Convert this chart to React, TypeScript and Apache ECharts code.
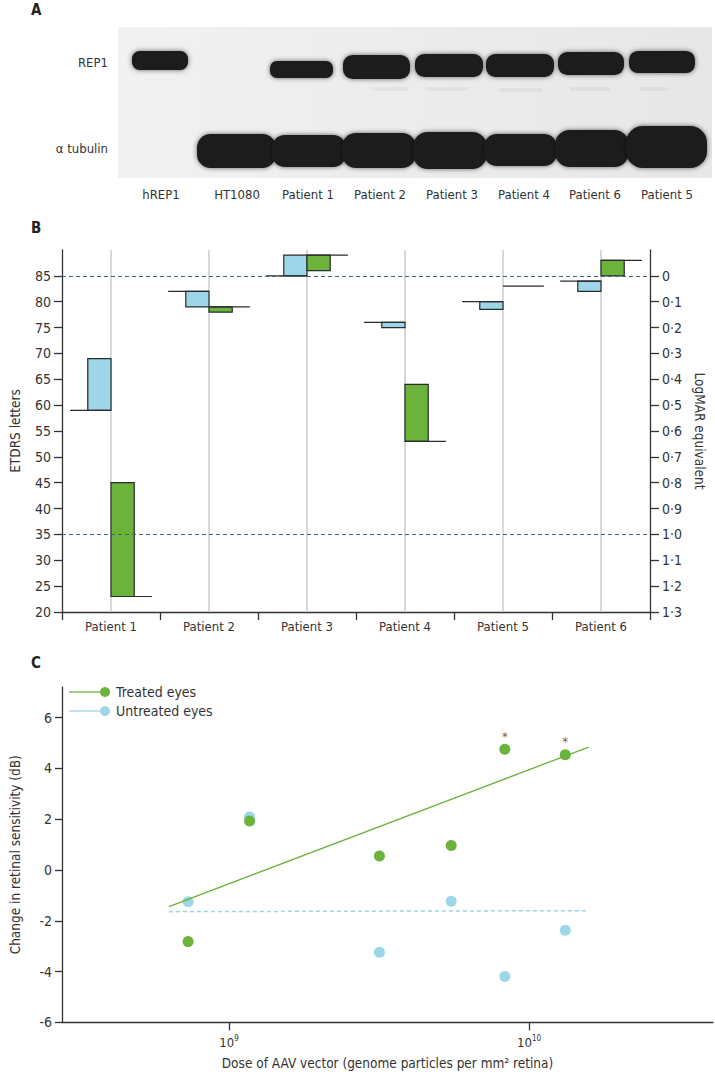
import React, { useEffect, useRef } from "react";
import * as echarts from "echarts";

const FONT = '"Liberation Sans Narrow", "DejaVu Sans Condensed", "Liberation Sans", sans-serif';
const TXT = "#333333";
const BLUE = "#9cd6e8";
const GREEN = "#6cb33c";
const DARK = "#2a2a2a";

// ---------- Panel A (western blot) ----------
const laneLabels = ["hREP1", "HT1080", "Patient 1", "Patient 2", "Patient 3", "Patient 4", "Patient 6", "Patient 5"];
const laneLabelX = [161, 237, 308, 380, 452, 524, 595, 667];
// REP1 bands: [x0, x1, y0, y1]
const rep1Bands = [
  [132, 188, 51, 70],
  [270, 333, 61, 78],
  [343, 410, 55, 79],
  [415, 483, 54, 77],
  [486, 554, 54, 77],
  [558, 624, 52, 75],
  [629, 695, 51, 73],
];
// tubulin bands
const tubulinBands = [
  [197, 276, 134, 168],
  [272, 346, 135, 167],
  [342, 416, 133, 168],
  [413, 487, 132, 169],
  [484, 557, 134, 166],
  [555, 629, 130, 167],
  [626, 707, 126, 168],
];
// faint smudges under REP1
const smudges = [
  [372, 408, 87, 91],
  [427, 468, 87, 91],
  [499, 543, 88, 92],
  [570, 610, 87, 91],
  [640, 668, 87, 91],
];

// ---------- Panel B ----------
const patientsB = ["Patient 1", "Patient 2", "Patient 3", "Patient 4", "Patient 5", "Patient 6"];
const untreatedBaseline = [59, 82, 85, 76, 80, 84];
const untreatedFinal = [69, 79, 89, 75, 78.5, 82];
const treatedBaseline = [23, 79, 89, 53, 83, 88];
const treatedFinal = [45, 78, 86, 64, 83, 85];
const etdrsTicks = [20, 25, 30, 35, 40, 45, 50, 55, 60, 65, 70, 75, 80, 85];
const logmarTicks = [0, 1, 2, 3, 4, 5, 6, 7, 8, 9, 10, 11, 12, 13].map((i) => i / 10);
const referenceLines = [85, 35];

// ---------- Panel C ----------
const doses = [7.3e8, 1.17e9, 3.17e9, 5.5e9, 8.3e9, 1.32e10];
const treatedChange = [-2.82, 1.93, 0.55, 0.96, 4.75, 4.54];
const untreatedChange = [-1.25, 2.09, -3.24, -1.23, -4.19, -2.37];
const significant = [false, false, false, false, true, true];
const fitDoses = [6.3e8, 1.58e10];
const treatedFit = [-1.44, 4.84];
const untreatedFit = [-1.64, -1.6];
const sensTicks = [-6, -4, -2, 0, 2, 4, 6];

export default function App() {
  const ref = useRef<HTMLDivElement>(null);
  useEffect(() => {
    if (!ref.current) return;
    const chart = echarts.init(ref.current, null, { renderer: "svg" });

    const graphics: any[] = [];
    // panel letters
    [["A", 10], ["B", 228], ["C", 663]].forEach(([t, y]) => {
      graphics.push({
        type: "text",
        x: 31,
        y: y as number,
        style: { text: t as string, font: `bold 15px ${FONT}`, fill: "#222", verticalAlign: "middle" },
      });
    });
    // blot background
    graphics.push({
      type: "rect",
      shape: { x: 118, y: 27, width: 594, height: 151 },
      style: {
        fill: new echarts.graphic.LinearGradient(0, 0, 1, 0, [
          { offset: 0, color: "#f1f1f1" },
          { offset: 1, color: "#e7e7e7" },
        ]),
      },
    });
    smudges.forEach(([x0, x1, y0, y1]) => {
      graphics.push({
        type: "rect",
        shape: { x: x0, y: y0, width: x1 - x0, height: y1 - y0, r: 2 },
        style: { fill: "rgba(0,0,0,0.045)", shadowBlur: 4, shadowColor: "rgba(0,0,0,0.06)" },
      });
    });
    const band = (b: number[]) => ({
      type: "rect",
      shape: { x: b[0], y: b[2], width: b[1] - b[0], height: b[3] - b[2], r: (b[3] - b[2]) * 0.4 },
      style: { fill: "#1c1c1c", shadowBlur: 5, shadowColor: "rgba(0,0,0,0.6)" },
    });
    rep1Bands.forEach((b) => graphics.push(band(b)));
    tubulinBands.forEach((b) => graphics.push(band(b)));
    graphics.push({
      type: "text",
      x: 108,
      y: 62,
      style: { text: "REP1", font: `13px ${FONT}`, fill: TXT, align: "right", verticalAlign: "middle" },
    });
    graphics.push({
      type: "text",
      x: 108,
      y: 148,
      style: { text: "α tubulin", font: `13px ${FONT}`, fill: TXT, align: "right", verticalAlign: "middle" },
    });
    laneLabels.forEach((t, i) => {
      graphics.push({
        type: "text",
        x: laneLabelX[i],
        y: 194,
        style: { text: t, font: `13px ${FONT}`, fill: TXT, align: "center", verticalAlign: "middle" },
      });
    });
    // legend panel C
    const legendItems = [
      { name: "Treated eyes", color: GREEN, y: 692 },
      { name: "Untreated eyes", color: BLUE, y: 711 },
    ];
    legendItems.forEach((it) => {
      graphics.push({ type: "line", shape: { x1: 69, y1: it.y, x2: 100, y2: it.y }, style: { stroke: it.color, lineWidth: 1.3 } });
      graphics.push({ type: "circle", shape: { cx: 105, cy: it.y, r: 5 }, style: { fill: it.color } });
      graphics.push({
        type: "text",
        x: 116,
        y: it.y,
        style: { text: it.name, font: `14px ${FONT}`, fill: TXT, verticalAlign: "middle" },
      });
    });

    const axisLineStyle = { color: "#333", width: 1.3 };
    const tickLabelStyle = { fontFamily: FONT, fontSize: 14, color: TXT };

    const barData: number[][] = [];
    patientsB.forEach((_, i) => {
      barData.push([i, untreatedBaseline[i], untreatedFinal[i], 0]);
      barData.push([i, treatedBaseline[i], treatedFinal[i], 1]);
    });

    const option: any = {
      animation: false,
      graphic: graphics,
      grid: [
        { left: 53, top: 250, width: 604, height: 362 },
        { left: 53, top: 687.1, width: 660, height: 335.3 },
      ],
      xAxis: [
        {
          type: "category",
          gridIndex: 0,
          data: patientsB,
          boundaryGap: true,
          axisLine: { onZero: false, lineStyle: axisLineStyle },
          axisTick: { show: true, interval: 0, length: 8, lineStyle: axisLineStyle },
          axisLabel: { ...tickLabelStyle, fontSize: 13, margin: 8, interval: 0 },
          splitLine: { show: false },
        },
        {
          type: "log",
          gridIndex: 1,
          min: Math.pow(10, 8.443),
          max: Math.pow(10, 10.613),
          axisLine: { onZero: false, lineStyle: axisLineStyle },
          axisTick: { show: true, length: 8, lineStyle: axisLineStyle },
          axisLabel: {
            ...tickLabelStyle,
            fontSize: 13,
            margin: 12,
            showMinLabel: false,
            showMaxLabel: false,
            formatter: (v: number) => `10{s|${Math.round(Math.log10(v))}}`,
            rich: { s: { fontFamily: FONT, fontSize: 8, color: TXT, verticalAlign: "top", padding: [0, 0, 8, 0] } },
          },
          splitLine: { show: false },
          minorTick: { show: false },
          name: "Dose of AAV vector (genome particles per mm² retina)",
          nameLocation: "middle",
          nameGap: 34,
          nameTextStyle: { fontFamily: FONT, fontSize: 13.5, color: TXT },
        },
      ],
      yAxis: [
        {
          type: "value",
          gridIndex: 0,
          min: 20,
          max: 90,
          interval: 5,
          axisLine: { show: true, onZero: false, lineStyle: axisLineStyle },
          axisTick: { show: true, length: 8, lineStyle: axisLineStyle, customValues: etdrsTicks },
          axisLabel: { ...tickLabelStyle, margin: 11, customValues: etdrsTicks },
          splitLine: { show: false },
          name: "ETDRS letters",
          nameLocation: "middle",
          nameGap: 40,
          nameTextStyle: { fontFamily: FONT, fontSize: 13.5, color: TXT },
        },
        {
          type: "value",
          gridIndex: 0,
          position: "right",
          min: -0.1,
          max: 1.3,
          interval: 0.1,
          inverse: true,
          axisLine: { show: true, onZero: false, lineStyle: axisLineStyle },
          axisTick: { show: true, length: 9, lineStyle: axisLineStyle, customValues: logmarTicks },
          axisLabel: {
            ...tickLabelStyle,
            margin: 12,
            customValues: logmarTicks,
            formatter: (v: number) => (Math.abs(v) < 1e-9 ? "0" : v.toFixed(1).replace(".", "·")),
          },
          splitLine: { show: false },
          name: "LogMAR equivalent",
          nameLocation: "middle",
          nameRotate: -90,
          nameGap: 43,
          nameTextStyle: { fontFamily: FONT, fontSize: 13.5, color: TXT },
        },
        {
          type: "value",
          gridIndex: 1,
          min: -6,
          max: 7.2,
          interval: 2,
          axisLine: { show: true, onZero: false, lineStyle: axisLineStyle },
          axisTick: { show: true, length: 7, lineStyle: axisLineStyle, customValues: sensTicks },
          axisLabel: { ...tickLabelStyle, margin: 10, customValues: sensTicks },
          splitLine: { show: false },
          name: "Change in retinal sensitivity (dB)",
          nameLocation: "middle",
          nameGap: 40,
          nameTextStyle: { fontFamily: FONT, fontSize: 13.5, color: TXT },
        },
      ],
      series: [
        {
          type: "custom",
          xAxisIndex: 0,
          yAxisIndex: 0,
          z: 1,
          silent: true,
          data: patientsB.map((_, i) => [i]),
          renderItem: (params: any, api: any) => {
            const i = api.value(0);
            const p1 = api.coord([i, 90]);
            const p2 = api.coord([i, 20]);
            return {
              type: "line",
              shape: { x1: p1[0], y1: p1[1], x2: p2[0], y2: p2[1] },
              style: { stroke: "#c3cdd5", lineWidth: 1.5 },
            };
          },
          markLine: {
            silent: true,
            symbol: "none",
            label: { show: false },
            lineStyle: { color: "#3f6579", type: [4, 3], width: 1 },
            data: referenceLines.map((v) => ({ yAxis: v })),
          },
        },
        {
          type: "custom",
          xAxisIndex: 0,
          yAxisIndex: 0,
          z: 3,
          silent: true,
          data: barData,
          renderItem: (params: any, api: any) => {
            const cat = api.value(0);
            const base = api.value(1);
            const fin = api.value(2);
            const side = api.value(3);
            const bw = api.size([1, 0])[0];
            const boxW = bw * 0.237;
            const lineW = bw * 0.18;
            const pb = api.coord([cat, base]);
            const pf = api.coord([cat, fin]);
            const cx = pb[0];
            const children: any[] = [];
            const h = Math.abs(pb[1] - pf[1]);
            if (h > 0.1) {
              children.push({
                type: "rect",
                shape: { x: side === 0 ? cx - boxW : cx, y: Math.min(pb[1], pf[1]), width: boxW, height: h },
                style: { fill: side === 0 ? BLUE : GREEN, stroke: DARK, lineWidth: 1.2 },
              });
            }
            children.push({
              type: "line",
              shape:
                side === 0
                  ? { x1: cx - boxW - lineW, y1: pb[1], x2: cx, y2: pb[1] }
                  : { x1: cx, y1: pb[1], x2: cx + boxW + lineW, y2: pb[1] },
              style: { stroke: DARK, lineWidth: 1.2 },
            });
            return { type: "group", children };
          },
        },
        {
          type: "line",
          name: "Untreated fit",
          xAxisIndex: 1,
          yAxisIndex: 2,
          showSymbol: false,
          silent: true,
          data: fitDoses.map((d, i) => [d, untreatedFit[i]]),
          lineStyle: { color: BLUE, width: 1.5, type: [4, 3] },
        },
        {
          type: "line",
          name: "Treated fit",
          xAxisIndex: 1,
          yAxisIndex: 2,
          showSymbol: false,
          silent: true,
          data: fitDoses.map((d, i) => [d, treatedFit[i]]),
          lineStyle: { color: GREEN, width: 1.3 },
        },
        {
          type: "scatter",
          name: "Untreated eyes",
          xAxisIndex: 1,
          yAxisIndex: 2,
          symbolSize: 11,
          itemStyle: { color: BLUE, opacity: 1 },
          data: doses.map((d, i) => [d, untreatedChange[i]]),
        },
        {
          type: "scatter",
          name: "Treated eyes",
          xAxisIndex: 1,
          yAxisIndex: 2,
          symbolSize: 11,
          itemStyle: { color: GREEN, opacity: 1 },
          data: doses.map((d, i) => ({
            value: [d, treatedChange[i]],
            label: significant[i]
              ? { show: true, formatter: "*", position: "top", distance: 1, color: "#666", fontSize: 13, fontFamily: FONT }
              : { show: false },
          })),
        },
      ],
    };
    chart.setOption(option);
    return () => chart.dispose();
  }, []);
  return <div ref={ref} style={{ position: "absolute", left: 0, top: 0, width: 715, height: 1074 }} />;
}
